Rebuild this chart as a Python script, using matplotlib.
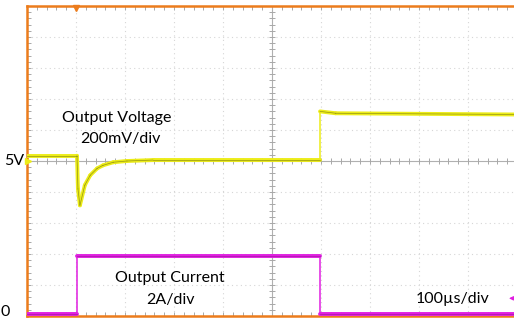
import numpy as np
import matplotlib
matplotlib.use('Agg')
import matplotlib.pyplot as plt

# time in divisions (100us/div), amplitude in divisions
volt_t = [0.0, 1.02, 1.04, 1.08, 1.18, 1.29, 1.43, 1.55, 1.76, 2.04, 2.57, 5.98, 5.98, 6.3, 10.0]
volt_v = [0.17, 0.17, -0.9, -1.43, -0.78, -0.46, -0.24, -0.14, -0.04, 0.0, 0.03, 0.03, 1.6, 1.54, 1.5]

curr_t = [0.0, 1.02, 1.02, 5.98, 5.98, 10.0]
curr_v = [-4.93, -4.93, -3.07, -3.07, -4.93, -4.93]

ORANGE = '#ec7c1c'
GRID = '#d6d6d6'
YELLOW = '#ecec18'
MAGENTA = '#e01ee0'


def draw_trace(ax, t, v, color, dark):
    # flat / sloped parts thick, vertical edges thin like on the scope screen
    for i in range(len(t) - 1):
        seg_t = t[i:i + 2]
        seg_v = v[i:i + 2]
        if seg_t[0] == seg_t[1]:
            ax.plot(seg_t, seg_v, color=color, lw=1.1, solid_capstyle='butt', zorder=4)
        else:
            ax.plot(seg_t, seg_v, color=color, lw=2.8, solid_capstyle='round', zorder=4)
            ax.plot(seg_t, seg_v, color=dark, lw=0.5, alpha=0.6, zorder=5)


fig = plt.figure(figsize=(5.14, 3.21), dpi=100)
ax = fig.add_axes([27 / 514, 5 / 321, 490 / 514, 310 / 321])
ax.set_xlim(0, 10)
ax.set_ylim(-5, 5)

# dotted division grid
for i in range(1, 10):
    if i != 5:
        ax.axvline(i, color=GRID, lw=0.8, ls=(0, (1, 3)), zorder=1)
        ax.axhline(i - 5, color=GRID, lw=0.8, ls=(0, (1, 3)), zorder=1)

# center axes with small ticks
ax.axvline(5, color='#b0b0b0', lw=0.8, zorder=2)
ax.axhline(0, color='#b0b0b0', lw=0.8, zorder=2)
minor = np.arange(0, 10.01, 0.2)
ax.plot(minor, np.zeros_like(minor), ls='none', marker='|', ms=4, mew=0.7, color='#a8a8a8', zorder=2)
ax.plot(np.full_like(minor, 5), minor - 5, ls='none', marker='_', ms=4, mew=0.7, color='#a8a8a8', zorder=2)

# frame
for side in ['top', 'left', 'bottom']:
    ax.spines[side].set_color(ORANGE)
    ax.spines[side].set_linewidth(1.8)
ax.spines['right'].set_visible(False)
ax.set_xticks(minor)
ax.set_yticks(minor - 5)
ax.tick_params(direction='in', length=3, width=0.7, color='#a8a8a8',
               top=True, bottom=True, left=True, right=False,
               labelbottom=False, labelleft=False)

draw_trace(ax, curr_t, curr_v, MAGENTA, '#7a1a7a')
draw_trace(ax, volt_t, volt_v, YELLOW, '#5c5c10')

# trigger / channel markers
ax.plot(1.0, 4.93, marker='v', ms=5, color=ORANGE, clip_on=False, zorder=6)
ax.plot(0.03, 0.0, marker='>', ms=4, color=YELLOW, clip_on=False, zorder=6)
ax.annotate('', xy=(9.78, -4.43), xytext=(10.0, -4.43),
            arrowprops=dict(arrowstyle='-|>', color=MAGENTA, lw=0.8, mutation_scale=6),
            zorder=6)

font = dict(family=['Lato', 'DejaVu Sans'], fontsize=11.5, color='black')
ax.text(1.84, 1.38, 'Output Voltage', ha='center', va='center', **font)
ax.text(1.9, 0.7, '200mV/div', ha='center', va='center', **font)
ax.text(2.92, -3.78, 'Output Current', ha='center', va='center', **font)
ax.text(2.92, -4.49, '2A/div', ha='center', va='center', **font)
ax.text(8.69, -4.46, '100µs/div', ha='center', va='center', **font)
ax.text(-0.06, 0.0, '5V', ha='right', va='center', clip_on=False, **font)
ax.text(-0.35, -4.88, '0', ha='right', va='center', clip_on=False, **font)

fig.savefig('out.png', dpi=100, facecolor='white')
